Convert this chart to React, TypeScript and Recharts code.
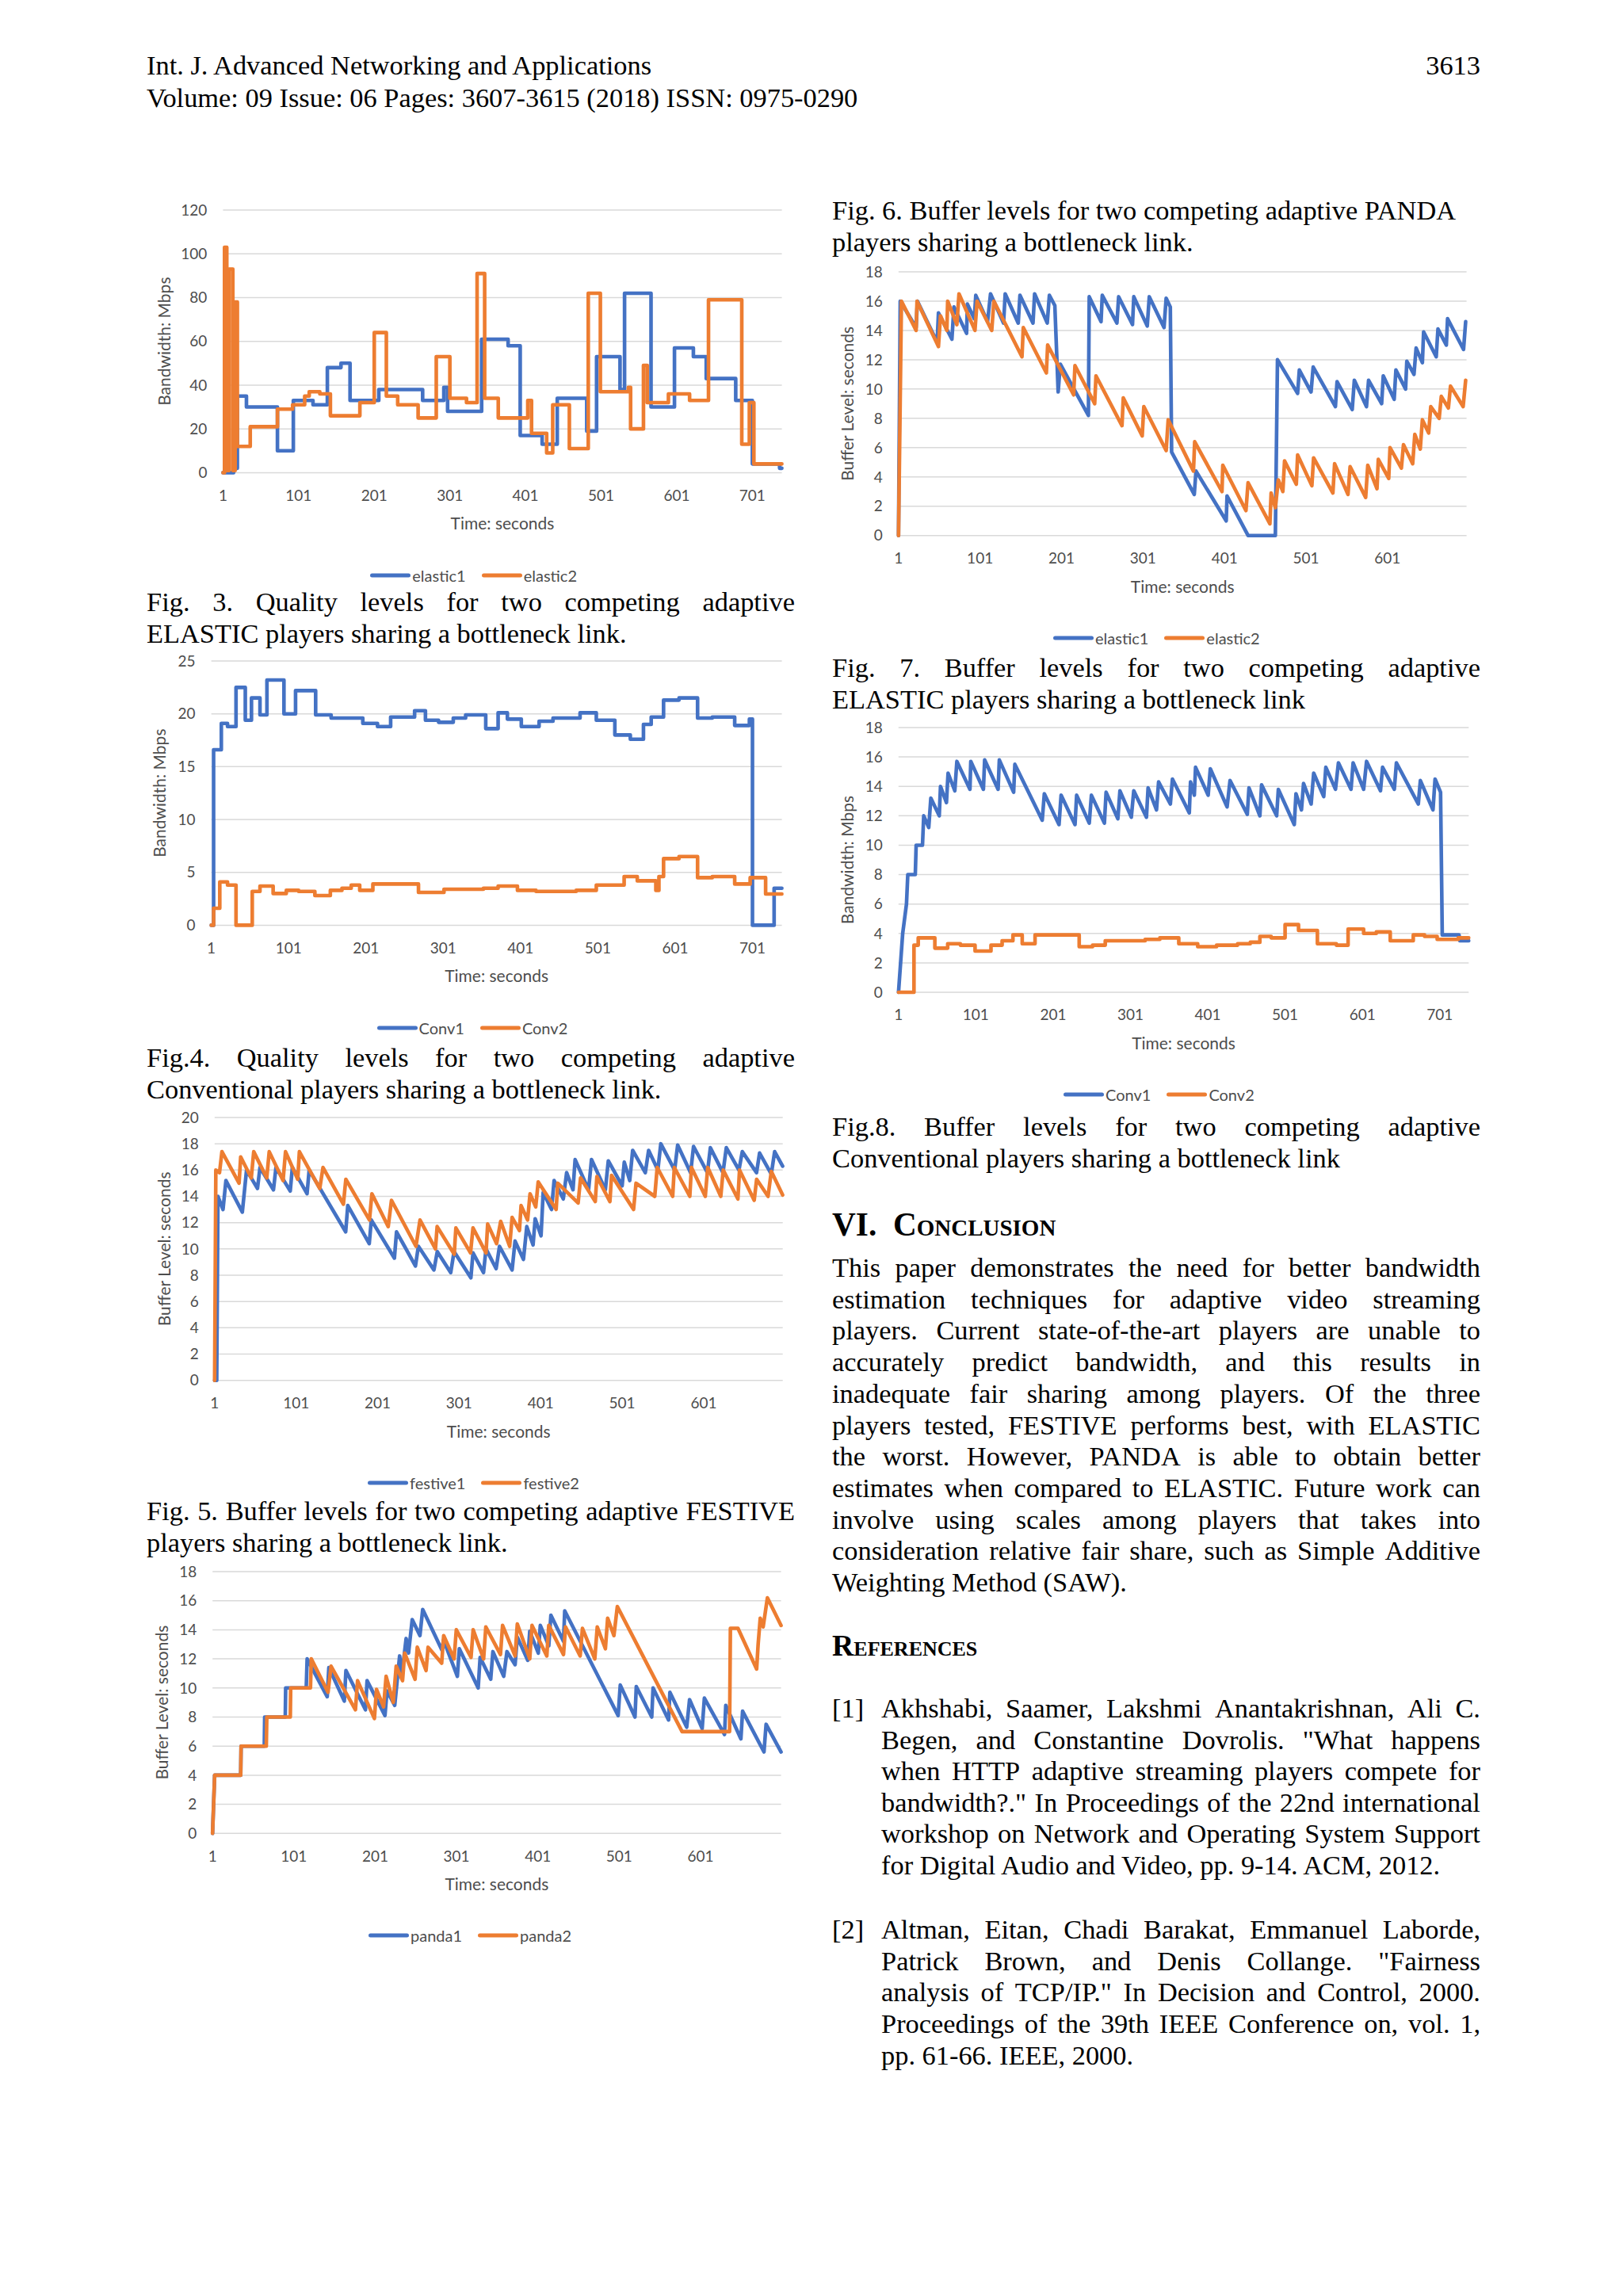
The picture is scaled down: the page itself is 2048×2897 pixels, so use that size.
import React from "react";
import { LineChart, Line, XAxis, YAxis, CartesianGrid, Legend } from "recharts";

const BLUE = "#4472C4";
const ORANGE = "#ED7D31";
const TICK = "#4d4d4d";
const SANS = 'Lato, "Open Sans", sans-serif';
const SERIF = '"Liberation Serif", "Times New Roman", serif';

type Pt = [number, number];

// x ticks (Time: seconds)
const ticksTo701 = [1, 101, 201, 301, 401, 501, 601, 701];
const ticksTo601 = [1, 101, 201, 301, 401, 501, 601];
// y ticks
const ticks120 = [0, 20, 40, 60, 80, 100, 120];
const ticks25 = [0, 5, 10, 15, 20, 25];
const ticks20 = [0, 2, 4, 6, 8, 10, 12, 14, 16, 18, 20];
const ticks18 = [0, 2, 4, 6, 8, 10, 12, 14, 16, 18];

// Fig. 3 quality levels ELASTIC (step values: [time, Mbps])
const elasticQ1: Pt[] = [[1,0],[15,60],[18,2],[20,35],[32,30],[73,10],[94,33],[120,31],[139,48],[157,50],[169,33],[207,38],[265,33],[293,39],[298,28],[343,61],[378,58],[394,17],[423,13],[443,34],[482,19],[495,53],[526,38],[532,82],[567,30],[598,57],[623,53],[640,43],[679,33],[701,4],[737,2],[740,2]];
const elasticQ2: Pt[] = [[1,0],[3,103],[6,1],[9,93],[14,1],[17,78],[20,12],[37,21],[73,29],[93,31],[109,35],[115,37],[129,36],[143,26],[182,32],[201,64],[217,35],[232,31],[259,25],[283,53],[301,34],[323,32],[337,91],[347,34],[365,25],[404,33],[409,18],[429,9],[437,31],[459,11],[484,82],[500,37],[537,39],[540,20],[557,49],[562,32],[590,36],[618,33],[643,79],[687,13],[697,32],[703,4],[740,4]];

// Fig. 4 quality levels Conventional
const convQ1: Pt[] = [[1,0],[4,16.6],[14,19.1],[22,18.8],[33,22.5],[45,19.4],[53,21.5],[64,19.9],[73,23.2],[95,20],[110,22.2],[136,19.9],[156,19.6],[197,19.1],[216,18.8],[233,19.7],[264,20.3],[278,19.4],[295,19.2],[314,19.6],[330,19.9],[356,18.6],[372,20.1],[384,19.5],[402,18.8],[425,19.3],[443,19.6],[478,20.1],[499,19.4],[523,18],[543,17.6],[560,19],[570,19.7],[586,21.3],[606,21.5],[630,19.6],[649,19.7],[678,18.9],[697,19.5],[701,0],[729,3.5],[739,3.5]];
const convQ2: Pt[] = [[1,0],[4,1.6],[12,4.1],[22,3.8],[33,0],[54,3.2],[64,3.7],[81,3.0],[98,3.3],[114,3.2],[135,2.8],[155,3.3],[170,3.5],[182,3.8],[193,3.3],[210,3.9],[269,3.1],[302,3.4],[353,3.5],[372,3.7],[397,3.3],[421,3.2],[473,3.3],[499,3.8],[535,4.6],[552,4.2],[576,3.3],[580,4.6],[586,6.3],[606,6.5],[630,4.5],[649,4.6],[678,3.9],[698,4.5],[718,2.95],[739,2.95]];

// Fig. 5 buffer levels FESTIVE
const festive1: Pt[] = [[1,0],[3.6,0],[5.1,14],[11.3,13],[14.9,15.2],[35,12.8],[40.2,16],[53.6,14.6],[56.7,16.2],[73.2,14.5],[76.3,16.2],[93.8,14.4],[96.4,16.2],[114.4,14.2],[117,16],[161.8,11.3],[164.4,13.3],[190.7,10.4],[193.3,12.2],[221.6,9.3],[224.2,11.3],[247.4,8.7],[251,10.2],[270.1,8.4],[274.2,9.8],[290.7,8.2],[294.8,9.8],[315.4,7.8],[318,9.7],[330.9,8.2],[334,10],[346.4,8.5],[350.5,10.2],[366,8.4],[369.6,10.6],[379.9,9.2],[384,11.7],[391.7,10.3],[394.3,12.3],[401.5,11],[404.1,14.3],[414.4,13],[417.5,15.2],[428.8,13.8],[432.9,15.8],[440.7,14.5],[443.3,16.8],[459.8,14.5],[463.4,16.8],[480.4,14.5],[484,16.7],[501,14.8],[503.6,16.6],[510.3,15.2],[513.9,17.5],[529.4,15.8],[533.5,17.5],[544.8,16],[548.4,18],[565.4,16],[569.1,17.9],[585,15.8],[588.6,17.8],[605.6,15.8],[609.2,17.7],[624.7,15.8],[628.8,17.7],[644.3,16],[648.4,17.4],[665.9,15.8],[669.6,17.3],[684,15.7],[688.1,17.4],[697.9,16.3]];
const festive2: Pt[] = [[1,0],[2.5,16],[7,15.8],[10,17.4],[31,15],[33,17],[46,15.4],[49,17.4],[65,15.4],[68,17.4],[85,15.2],[88,17.4],[103,15.3],[105,17.4],[130,14.6],[134,16.2],[159,13.4],[162,15.3],[191,12.2],[194,14.2],[214,11.7],[218,13.7],[248,10.2],[253,12.2],[272,10],[274,11.7],[295,9.6],[297,11.6],[315,9.7],[318,11.6],[334,9.7],[336,11.9],[347,10.4],[352,12.1],[363,10.2],[366,12.4],[375,11.4],[377,13.3],[385,12.2],[388,14.2],[395,13.2],[398,15.1],[420,13],[422,15],[447,13.5],[450,15.4],[468,13.6],[470,15.5],[486,13.6],[488,15.6],[515,13],[518,15],[541,14],[544,16.2],[563,14],[565,16.2],[584,14],[586,16.2],[603,14],[606,16.2],[622,14],[625,16],[643,13.8],[645,16],[663,13.7],[666,15.3],[680,14],[684,15.9],[697.9,14.1]];

// Fig. 6 buffer levels PANDA
const panda1: Pt[] = [[1,0],[3.6,4],[35.6,4],[36.1,6],[64.6,6],[65.1,8],[90.4,8],[90.9,10],[116.2,10],[117.3,12],[142,9.4],[144,11.4],[163,9.1],[165,11.2],[189,8.5],[191,10.5],[213,8.1],[215.5,9.8],[225,8.8],[231,12.2],[234,11],[239,13.4],[242,12.4],[246.5,14.7],[256,13.6],[259.4,15.4],[283,12.6],[285,13.3],[302,10.8],[304.4,12.7],[327.6,10],[330,12.1],[343,10.6],[345.7,12.5],[359,10.8],[363,12.5],[373,11.6],[375.7,13.5],[388.6,11.9],[391,13.9],[401.5,12.4],[404,14.3],[414.4,12.9],[417,15],[432.5,13.2],[434,15.3],[499.7,8.1],[502.3,10.2],[520.4,8],[522,10.1],[541,8],[542.6,10],[561.7,7.8],[563.3,9.7],[584,7.3],[587.5,9.2],[603,7.2],[605.7,9.3],[630.5,6.8],[632,8.8],[650.6,6.5],[652.7,8.4],[679,5.6],[681.6,7.5],[700,5.6]];
const panda2: Pt[] = [[1,0],[3.6,4],[35.6,4],[36.1,6],[67.1,6],[67.7,8],[96.6,8],[97.1,10],[121.4,10],[122.4,12],[143,9.7],[146.7,11.5],[176.7,8.5],[179.3,10.5],[200,7.9],[202.6,9.9],[211.3,8.7],[214.4,10.8],[223.2,9],[226.8,11.5],[234.6,10.5],[237.2,12.4],[250,10.6],[252.7,12.8],[263.5,11.2],[266,12.8],[282.7,11.7],[285.2,13.6],[298,12],[300.7,14],[318.8,12.1],[321.4,14],[334.3,12],[337,14.2],[355,12.3],[357.6,14.3],[373,12.2],[375.7,14.4],[391,12],[393.8,14.3],[412,12.2],[414.4,14.3],[432.5,12.3],[435,14.2],[453,12.2],[455.8,14.1],[471,12],[474,14.2],[484,12.7],[486.8,14.8],[494.5,13.6],[498.7,15.6],[578.3,7],[636.7,7],[637.7,14.1],[647,14.1],[670,11.3],[671.8,13],[674.4,14.8],[678,14.2],[683.2,16.2],[700,14.3]];

// Fig. 7 buffer levels ELASTIC
const elasticB1: Pt[] = [[1,0],[3.1,16],[22.6,14.2],[24.2,16],[48.4,13.2],[50,15.2],[66.5,13.4],[69,15.6],[84.5,13.8],[85.5,15.8],[94,14.8],[95.8,16.4],[110.3,14.6],[113.9,16.5],[129.9,14.5],[131.9,16.5],[147.9,14.5],[150,16.4],[166,14.5],[168,16.5],[183.5,14.5],[186.1,16.4],[192.8,15.7],[196.9,9.8],[199.5,11.7],[234,8.2],[235,16.3],[249.5,14.6],[251,16.4],[269,14.5],[271.1,16.3],[288.1,14.4],[289.7,16.3],[306.2,14.3],[308.7,16.3],[326.8,14.2],[329.4,16.2],[334.5,15.6],[336.1,5.7],[363.9,2.8],[366,4.4],[403.1,1],[404.1,2.7],[429.9,0],[463.4,0],[466,12],[490.7,9.7],[492.8,11.3],[507.2,9.8],[509.8,11.5],[537.1,8.8],[539.1,10.5],[557.7,8.6],[560.3,10.6],[575.2,8.8],[577.8,10.6],[593.8,9],[595.8,10.9],[609.2,9.3],[611.3,11.3],[623.2,10],[624.7,11.9],[633.5,11],[636.1,12.8],[643.8,11.8],[645.3,13.9],[660.8,12.2],[662.9,14.1],[673.2,13],[674.7,14.8],[694.3,12.7],[696.9,14.6]];
const elasticB2: Pt[] = [[1,0],[4.6,16],[22.6,14],[23.7,16],[50,12.9],[52.5,15],[60.3,14],[61.3,16],[72.6,14.4],[75.2,16.5],[94.8,14],[97.4,16],[115.4,14],[118,16],[152.5,12.2],[154.1,14.2],[182.4,11.1],[184,13],[215.9,9.6],[217.5,11.6],[241.7,9],[243.3,10.9],[275.2,7.5],[276.8,9.4],[300,6.8],[302,8.8],[329.4,5.8],[331.9,7.9],[362.9,4.4],[364.4,6.4],[397.9,3],[398.9,4.8],[427.3,1.7],[429.9,3.6],[456.7,0.8],[458.2,2.9],[463.4,1.9],[467,3.8],[472.6,3],[474.7,5.1],[489.1,3.5],[490.7,5.5],[508.2,3.4],[510.3,5.3],[534,2.9],[536.1,4.9],[552.5,2.8],[555.1,4.7],[574.2,2.6],[576.8,4.8],[588.1,3.2],[589.7,5.2],[602.5,3.9],[604.1,6],[618,4.6],[620.6,6.2],[631.9,4.9],[634.5,6.9],[641.2,5.9],[643.8,7.9],[651.5,7],[654.1,8.8],[664.4,8],[667,9.5],[675.7,8.7],[678.3,10.2],[693.8,8.8],[696.9,10.6]];

// Fig. 8 buffer levels Conventional
const convB1: Pt[] = [[1,0],[6.4,4],[11.3,6],[13,8],[22.7,8],[23.8,10],[32,10],[33.6,12],[40.1,11.2],[42.8,13.2],[53.7,12],[55.3,14],[63,12.9],[65.1,14.9],[73.8,13.7],[76.5,15.7],[93.4,13.8],[94.5,15.7],[110.8,13.8],[112.4,15.8],[129.8,13.8],[131.4,15.8],[149.9,13.6],[151.5,15.5],[186.9,11.7],[189.6,13.5],[208.6,11.4],[211.3,13.4],[229.3,11.4],[231.4,13.4],[247.7,11.5],[250.5,13.4],[267.3,11.5],[269.5,13.6],[284.7,11.8],[287.4,13.7],[302.1,11.9],[305.3,13.7],[321.7,11.9],[323.8,13.9],[334.7,12.4],[337.4,14.3],[352.6,12.8],[355.3,14.5],[377.1,12.2],[378.7,14.3],[383.6,13.4],[385.2,15.3],[401.5,13.4],[404.3,15.2],[426,12.6],[429.8,14.4],[452.1,12.1],[454.3,13.9],[468.4,12],[470.6,14.1],[490.1,12],[492.3,13.8],[512.9,11.4],[515.1,13.5],[522.2,12.4],[524.9,14.2],[534.7,12.8],[538,14.9],[551,13.3],[553.7,15.3],[566.2,13.8],[570,15.6],[586.3,13.8],[589,15.6],[602.6,13.8],[606.4,15.7],[624.4,13.7],[627.1,15.3],[642.3,13.8],[645,15.6],[673.3,12.8],[676,14.4],[692.3,12.4],[695,14.5],[702.1,13.6],[704.3,3.9],[726,3.9],[727.1,3.5],[738.5,3.5]];
const convB2: Pt[] = [[1,0],[21,3.2],[26.5,3.7],[48,3.0],[64.6,3.3],[81,3.2],[100,2.8],[120.6,3.2],[135,3.5],[149,3.9],[161,3.3],[177.6,3.9],[234.7,3.1],[252,3.2],[268.4,3.5],[320,3.6],[339,3.7],[363.5,3.3],[388,3.1],[412.4,3.2],[439.6,3.3],[456,3.4],[468.4,3.8],[483,3.7],[501,4.6],[518.4,4.2],[542.8,3.3],[567.3,3.2],[582.5,4.3],[602.6,4.0],[619,4.1],[637,3.5],[666.8,3.9],[681.4,3.8],[697.7,3.6],[725,3.7],[738.5,3.7]];

const toRows = (pts: Pt[]) => pts.map(([t, v]) => ({ t, v }));

type ChartProps = {
  left: number;
  plotLeft: number;
  plotRight: number;
  plotTop: number;
  plotBottom: number;
  xMax: number;
  xTicks: number[];
  yMax: number;
  yTicks: number[];
  yLabel: string;
  yLabelX: number;
  names: [string, string];
  s1: Pt[];
  s2: Pt[];
  step1?: boolean;
  step2?: boolean;
  legendLeft: number;
};

const LegendRow = ({ names }: { names: [string, string] }) => (
  <div style={{ display: "flex", alignItems: "center", height: 24, fontFamily: SANS, fontSize: 20, color: TICK }}>
    {[BLUE, ORANGE].map((c, i) => (
      <div key={c} style={{ display: "flex", alignItems: "center", marginLeft: i ? 20 : 0 }}>
        <svg width={51} height={10}>
          <line x1={2.5} y1={5} x2={48.5} y2={5} stroke={c} strokeWidth={5} strokeLinecap="round" />
        </svg>
        <span style={{ marginLeft: 2 }}>{names[i]}</span>
      </div>
    ))}
  </div>
);

const PlayerChart = (p: ChartProps) => {
  const top = p.plotTop - 16;
  const width = p.plotRight - p.left + 12;
  const height = p.plotBottom - top + 150;
  const legendTop = p.plotBottom + 129 - top - 12;
  return (
    <div style={{ position: "absolute", left: p.left, top }}>
      <LineChart width={width} height={height} margin={{ top: 16, right: 12, left: 0, bottom: 60 }}>
        <CartesianGrid vertical={false} stroke="#d9d9d9" strokeWidth={1.5} />
        <XAxis
          type="number"
          dataKey="t"
          domain={[1, p.xMax]}
          ticks={p.xTicks}
          interval={0}
          height={90}
          axisLine={false}
          tickLine={false}
          tickSize={0}
          tickMargin={22}
          tick={{ fontSize: 19, fill: TICK, fontFamily: SANS }}
          label={{ value: "Time: seconds", position: "insideBottom", offset: 18, fontSize: 21, fill: TICK, fontFamily: SANS }}
        />
        <YAxis
          type="number"
          domain={[0, p.yMax]}
          ticks={p.yTicks}
          interval={0}
          width={p.plotLeft - p.left}
          axisLine={false}
          tickLine={false}
          tickSize={0}
          tickMargin={20}
          tick={{ fontSize: 19, fill: TICK, fontFamily: SANS }}
          label={{
            value: p.yLabel,
            angle: -90,
            position: "insideLeft",
            offset: p.yLabelX - p.left,
            fontSize: 21,
            fill: TICK,
            fontFamily: SANS,
            style: { textAnchor: "middle" },
          }}
        />
        <Legend
          layout="horizontal"
          verticalAlign="middle"
          align="center"
          wrapperStyle={{ left: p.legendLeft - p.left, top: legendTop, width: "auto" }}
          content={() => <LegendRow names={p.names} />}
        />
        <Line
          data={toRows(p.s1)}
          dataKey="v"
          name={p.names[0]}
          type={p.step1 ? "stepAfter" : "linear"}
          stroke={BLUE}
          strokeWidth={4.6}
          strokeLinejoin="round"
          strokeLinecap="round"
          dot={false}
          activeDot={false}
          isAnimationActive={false}
        />
        <Line
          data={toRows(p.s2)}
          dataKey="v"
          name={p.names[1]}
          type={p.step2 ? "stepAfter" : "linear"}
          stroke={ORANGE}
          strokeWidth={4.6}
          strokeLinejoin="round"
          strokeLinecap="round"
          dot={false}
          activeDot={false}
          isAnimationActive={false}
        />
      </LineChart>
    </div>
  );
};

type TextProps = {
  left: number;
  width: number;
  centerY: number;
  lines: string[];
  step?: number;
  justify?: boolean;
};

const TextBlock = ({ left, width, centerY, lines, step = 39.7, justify = true }: TextProps) => (
  <div style={{ position: "absolute", left, top: centerY - 22, width, fontFamily: SERIF, fontSize: 34.4, lineHeight: "40px", color: "#000" }}>
    {lines.map((ln, i) => {
      const just = justify && i < lines.length - 1;
      return (
        <div
          key={i}
          style={{
            position: "absolute",
            top: i * step,
            left: 0,
            width,
            whiteSpace: "pre",
            display: "flex",
            justifyContent: just ? "space-between" : "flex-start",
          }}
        >
          {just ? ln.split(" ").map((w, j) => <span key={j}>{w}</span>) : ln}
        </div>
      );
    })}
  </div>
);

const LEFT = 185;
const RIGHT = 1050;
const COL = 818;

const conclusion = [
  "This paper demonstrates the need for better bandwidth",
  "estimation techniques for adaptive video streaming",
  "players. Current state-of-the-art players are unable to",
  "accurately predict bandwidth, and this results in",
  "inadequate fair sharing among players. Of the three",
  "players tested, FESTIVE performs best, with ELASTIC",
  "the worst. However, PANDA is able to obtain better",
  "estimates when compared to ELASTIC. Future work can",
  "involve using scales among players that takes into",
  "consideration relative fair share, such as Simple Additive",
  "Weighting Method (SAW).",
];

const ref1 = [
  "Akhshabi, Saamer, Lakshmi Anantakrishnan, Ali C.",
  'Begen, and Constantine Dovrolis. "What happens',
  "when HTTP adaptive streaming players compete for",
  'bandwidth?." In Proceedings of the 22nd international',
  "workshop on Network and Operating System Support",
  "for Digital Audio and Video, pp. 9-14. ACM, 2012.",
];

const ref2 = [
  "Altman, Eitan, Chadi Barakat, Emmanuel Laborde,",
  'Patrick Brown, and Denis Collange. "Fairness',
  'analysis of TCP/IP." In Decision and Control, 2000.',
  "Proceedings of the 39th IEEE Conference on, vol. 1,",
  "pp. 61-66. IEEE, 2000.",
];

export default function App() {
  return (
    <div style={{ position: "absolute", left: 0, top: 0, width: 2048, height: 2897, background: "#fff", overflow: "hidden" }}>
      {/* header */}
      <TextBlock left={LEFT} width={1200} centerY={84} justify={false} lines={["Int. J. Advanced Networking and Applications"]} />
      <TextBlock left={LEFT} width={1200} centerY={125} justify={false} lines={["Volume: 09 Issue: 06 Pages: 3607-3615 (2018) ISSN: 0975-0290"]} />
      <div style={{ position: "absolute", left: 1668, top: 62, width: 200, textAlign: "right", fontFamily: SERIF, fontSize: 34.4, lineHeight: "40px" }}>3613</div>

      {/* left column */}
      <PlayerChart
        left={LEFT} plotLeft={281.4} plotRight={986.6} plotTop={265.3} plotBottom={596.7}
        xMax={740} xTicks={ticksTo701} yMax={120} yTicks={ticks120}
        yLabel="Bandwidth: Mbps" yLabelX={207.2} names={["elastic1", "elastic2"]}
        s1={elasticQ1} s2={elasticQ2} step1 step2 legendLeft={467.3}
      />
      <TextBlock left={LEFT} width={COL} centerY={761} lines={["Fig. 3. Quality levels for two competing adaptive", "ELASTIC players sharing a bottleneck link."]} />

      <PlayerChart
        left={LEFT} plotLeft={266.6} plotRight={986.6} plotTop={834.3} plotBottom={1167.7}
        xMax={739} xTicks={ticksTo701} yMax={25} yTicks={ticks25}
        yLabel="Bandwidth: Mbps" yLabelX={202} names={["Conv1", "Conv2"]}
        s1={convQ1} s2={convQ2} step1 step2 legendLeft={475.5}
      />
      <TextBlock left={LEFT} width={COL} centerY={1336} lines={["Fig.4. Quality levels for two competing adaptive", "Conventional players sharing a bottleneck link."]} />

      <PlayerChart
        left={LEFT} plotLeft={270.8} plotRight={987.7} plotTop={1410} plotBottom={1741.7}
        xMax={698} xTicks={ticksTo601} yMax={20} yTicks={ticks20}
        yLabel="Buffer Level: seconds" yLabelX={207.2} names={["festive1", "festive2"]}
        s1={festive1} s2={festive2} legendLeft={464}
      />
      <TextBlock left={LEFT} width={COL} centerY={1908} lines={["Fig. 5. Buffer levels for two competing adaptive FESTIVE", "players sharing a bottleneck link."]} />

      <PlayerChart
        left={LEFT} plotLeft={268.2} plotRight={985.6} plotTop={1983} plotBottom={2313.3}
        xMax={700} xTicks={ticksTo601} yMax={18} yTicks={ticks18}
        yLabel="Buffer Level: seconds" yLabelX={204.5} names={["panda1", "panda2"]}
        s1={panda1} s2={panda2} legendLeft={465}
      />

      {/* right column */}
      <TextBlock left={RIGHT} width={COL} centerY={267} justify={false} lines={["Fig. 6. Buffer levels for two competing adaptive PANDA", "players sharing a bottleneck link."]} />
      <PlayerChart
        left={RIGHT} plotLeft={1133.8} plotRight={1850.6} plotTop={343.3} plotBottom={676}
        xMax={698} xTicks={ticksTo601} yMax={18} yTicks={ticks18}
        yLabel="Buffer Level: seconds" yLabelX={1070} names={["elastic1", "elastic2"]}
        s1={elasticB1} s2={elasticB2} legendLeft={1329}
      />
      <TextBlock left={RIGHT} width={COL} centerY={844} lines={["Fig. 7. Buffer levels for two competing adaptive", "ELASTIC players sharing a bottleneck link"]} />

      <PlayerChart
        left={RIGHT} plotLeft={1133.8} plotRight={1853.3} plotTop={917.7} plotBottom={1251.7}
        xMax={738.5} xTicks={ticksTo701} yMax={18} yTicks={ticks18}
        yLabel="Bandwidth: Mbps" yLabelX={1070} names={["Conv1", "Conv2"]}
        s1={convB1} s2={convB2} step2 legendLeft={1342}
      />
      <TextBlock left={RIGHT} width={COL} centerY={1423} lines={["Fig.8. Buffer levels for two competing adaptive", "Conventional players sharing a bottleneck link"]} />

      <div style={{ position: "absolute", left: RIGHT, top: 1520.5, fontFamily: SERIF, fontSize: 41.3, lineHeight: "48px", fontWeight: "bold", whiteSpace: "pre" }}>
        VI.{"  "}<span style={{ fontVariant: "small-caps" }}>Conclusion</span>
      </div>
      <TextBlock left={RIGHT} width={COL} centerY={1601} lines={conclusion} />

      <div style={{ position: "absolute", left: RIGHT, top: 2053.5, fontFamily: SERIF, fontSize: 37.8, lineHeight: "44px", fontWeight: "bold", fontVariant: "small-caps" }}>
        References
      </div>
      <TextBlock left={RIGHT} width={60} centerY={2157} justify={false} lines={["[1]"]} />
      <TextBlock left={1112} width={756} centerY={2157} step={39.6} lines={ref1} />
      <TextBlock left={RIGHT} width={60} centerY={2436} justify={false} lines={["[2]"]} />
      <TextBlock left={1112} width={756} centerY={2436} step={39.7} lines={ref2} />
    </div>
  );
}
